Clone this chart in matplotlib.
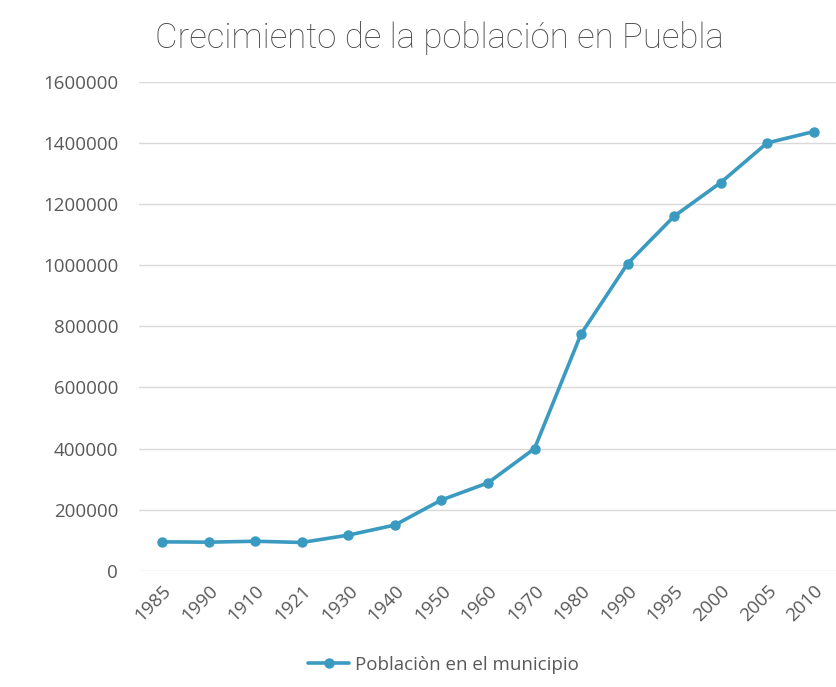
import matplotlib.pyplot as plt
from matplotlib.ticker import MultipleLocator

years = ["1985", "1990", "1910", "1921", "1930", "1940", "1950", "1960",
         "1970", "1980", "1990", "1995", "2000", "2005", "2010"]
poblacion = [95000, 94000, 97000, 93000, 117000, 150000, 232000, 288000,
             400000, 775000, 1005000, 1160000, 1270000, 1400000, 1437000]

gray = "#595959"
blue = "#3A9AC0"

plt.rcParams['font.family'] = ['Open Sans', 'DejaVu Sans']

fig = plt.figure(figsize=(8.37, 6.87), dpi=100)
ax = fig.add_axes([0.166, 0.169, 0.834, 0.712])

x = range(len(years))
ax.plot(x, poblacion, color=blue, linewidth=2.6, marker="o", markersize=6.5,
        label="Poblaciòn en el municipio", solid_capstyle="round")

ax.set_xlim(-0.5, len(years) - 0.5)
ax.set_ylim(0, 1600000)
ax.yaxis.set_major_locator(MultipleLocator(200000))
ax.yaxis.set_major_formatter(plt.FuncFormatter(lambda v, p: f"{int(v)}"))
ax.grid(axis="y", color="#d9d9d9", linewidth=1)
ax.set_axisbelow(True)
for s in ax.spines.values():
    s.set_visible(False)
ax.tick_params(length=0, labelsize=13.5, labelcolor=gray)
ax.tick_params(axis="y", pad=15)
ax.set_xticks(list(x))
ax.set_xticklabels(years, rotation=45, ha="right", rotation_mode="anchor")
ax.tick_params(axis="x", pad=8)

fig.suptitle("Crecimiento de la población en Puebla", x=0.525, y=0.97,
             fontsize=25, color="#4a4a4a", family=["Roboto", "DejaVu Sans"],
             fontweight="light")

fig.legend(loc="center", bbox_to_anchor=(0.53, 0.032), frameon=False,
           fontsize=13.5, labelcolor=gray, handlelength=2.2, handletextpad=0.3)

fig.savefig("out.png", dpi=100)
